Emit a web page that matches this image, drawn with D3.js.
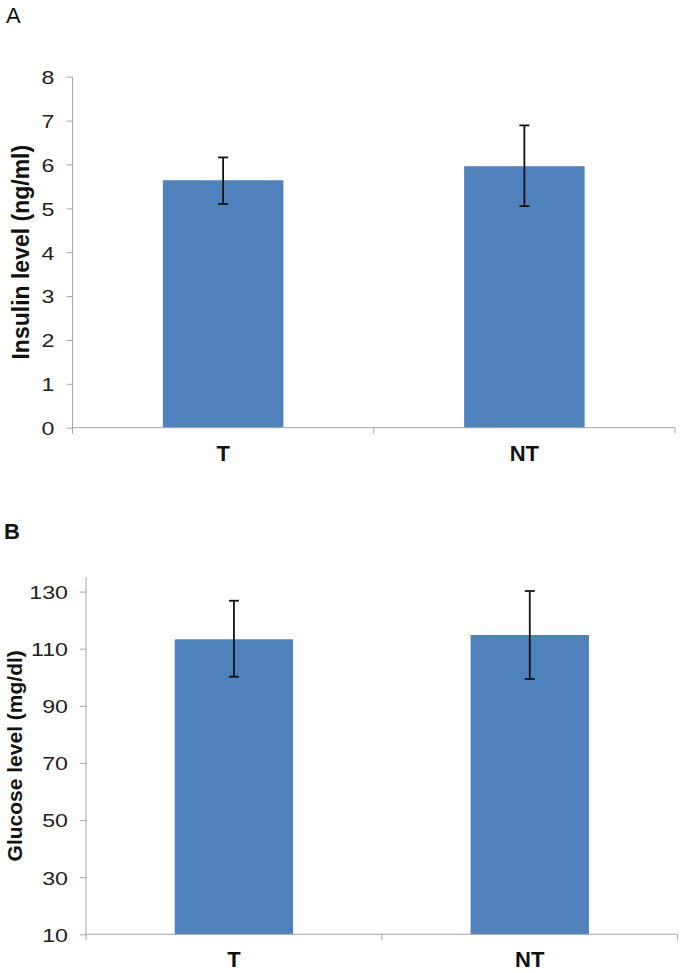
<!DOCTYPE html>
<html>
<head>
<meta charset="utf-8">
<script src="https://cdn.jsdelivr.net/npm/d3@7"></script>
<style>
  html, body { margin: 0; padding: 0; background: #fff; }
  svg { display: block; font-family: "Liberation Sans", Arial, sans-serif; }
</style>
</head>
<body>
<svg id="chart" width="685" height="973"></svg>
<script>
// ---- Data ----
const categories = ["T", "NT"];

const insulinMean = [5.64, 5.96];
const insulinErrHigh = [6.16, 6.89];
const insulinErrLow = [5.10, 5.05];
const insulinTicks = [0, 1, 2, 3, 4, 5, 6, 7, 8];

const glucoseMean = [113.3, 114.8];
const glucoseErrHigh = [126.8, 130.2];
const glucoseErrLow = [100.2, 99.4];
const glucoseTicks = [10, 30, 50, 70, 90, 110, 130];

// ---- Drawing ----
const svg = d3.select("#chart");
const axisColor = "#a6a6a6";
const barColor = "#4f81bd";

function stretch(sel, k) {
  sel.each(function () {
    const w = this.getComputedTextLength();
    d3.select(this).attr("textLength", w * k).attr("lengthAdjust", "spacingAndGlyphs");
  });
}

function panel(cfg) {
  const g = svg.append("g");
  const x = d3.scaleBand().domain(categories).range([cfg.x0, cfg.x1]).padding(0);
  const y = d3.scaleLinear().domain(cfg.domain).range([cfg.yBottom, cfg.yTop]);
  const rows = categories.map((c, i) => ({ c, v: cfg.mean[i], hi: cfg.hi[i], lo: cfg.lo[i] }));
  const bw = x.bandwidth() * 0.4;

  // bars
  g.selectAll("rect.bar").data(rows).join("rect")
    .attr("class", "bar")
    .attr("x", d => x(d.c) + (x.bandwidth() - bw) / 2)
    .attr("width", bw)
    .attr("y", d => y(d.v))
    .attr("height", d => y(cfg.domain[0]) - y(d.v))
    .attr("fill", barColor);

  // y axis
  const yAxis = d3.axisLeft(y).tickValues(cfg.ticks).tickSize(6).tickPadding(12).tickFormat(d3.format("d"));
  const ya = g.append("g").attr("transform", `translate(${cfg.x0},0)`).call(yAxis);
  ya.select(".domain").attr("stroke", axisColor).attr("d", `M0,${y(cfg.domain[1])}V${cfg.yBottom}`);
  ya.selectAll(".tick line").attr("stroke", axisColor);
  const tt = ya.selectAll(".tick text").attr("fill", "#222").style("font-size", "19px")
    .style("font-family", "'Liberation Sans', Arial, sans-serif").attr("dy", "0.36em");
  stretch(tt, 1.22);

  // x axis with boundary ticks
  const xa = g.append("g");
  xa.append("line").attr("x1", cfg.x0).attr("x2", cfg.x1)
    .attr("y1", cfg.yBottom).attr("y2", cfg.yBottom).attr("stroke", axisColor);
  const bounds = [cfg.x0].concat(categories.map(c => x(c) + x.bandwidth()));
  xa.selectAll("line.bt").data(bounds).join("line").attr("class", "bt")
    .attr("x1", d => d).attr("x2", d => d)
    .attr("y1", cfg.yBottom).attr("y2", cfg.yBottom + 6).attr("stroke", axisColor);
  xa.selectAll("text.cat").data(categories).join("text").attr("class", "cat")
    .attr("x", d => x(d) + x.bandwidth() / 2)
    .attr("y", cfg.yBottom + cfg.catDy)
    .attr("text-anchor", "middle")
    .style("font-size", "22px").style("font-weight", "bold").attr("fill", "#111")
    .text(d => d);

  // error bars
  const eb = g.selectAll("g.err").data(rows).join("g").attr("class", "err")
    .attr("transform", d => `translate(${x(d.c) + x.bandwidth() / 2},0)`);
  eb.append("line").attr("y1", d => y(d.hi)).attr("y2", d => y(d.lo)).attr("stroke", "#111").attr("stroke-width", 1.8);
  eb.append("line").attr("x1", -5).attr("x2", 5).attr("y1", d => y(d.hi)).attr("y2", d => y(d.hi)).attr("stroke", "#111").attr("stroke-width", 1.8);
  eb.append("line").attr("x1", -5).attr("x2", 5).attr("y1", d => y(d.lo)).attr("y2", d => y(d.lo)).attr("stroke", "#111").attr("stroke-width", 1.8);

  // axis title
  g.append("text")
    .attr("transform", `translate(${cfg.titleX},${(cfg.yTop + cfg.yBottom) / 2}) rotate(-90)`)
    .attr("text-anchor", "middle")
    .style("font-size", cfg.titleSize).style("font-weight", "bold").attr("fill", "#111")
    .text(cfg.title);

  // panel letter
  g.append("text").attr("x", cfg.letterX).attr("y", cfg.letterY)
    .style("font-size", "22px").style("font-weight", cfg.letterWeight).attr("fill", "#111").text(cfg.letter);
}

panel({
  x0: 72.5, x1: 675, yTop: 76.7, yBottom: 427.7, domain: [0, 8],
  mean: insulinMean, hi: insulinErrHigh, lo: insulinErrLow, ticks: insulinTicks,
  title: "Insulin level (ng/ml)", titleSize: "23px", titleX: 29, catDy: 33.5,
  letter: "A", letterX: 6, letterY: 23, letterWeight: "normal"
});

panel({
  x0: 86, x1: 677.7, yTop: 577.3, yBottom: 934.3, domain: [10, 135],
  mean: glucoseMean, hi: glucoseErrHigh, lo: glucoseErrLow, ticks: glucoseTicks,
  title: "Glucose level (mg/dl)", titleSize: "21px", titleX: 22, catDy: 33,
  letter: "B", letterX: 4, letterY: 539, letterWeight: "bold"
});
</script>
</body>
</html>
